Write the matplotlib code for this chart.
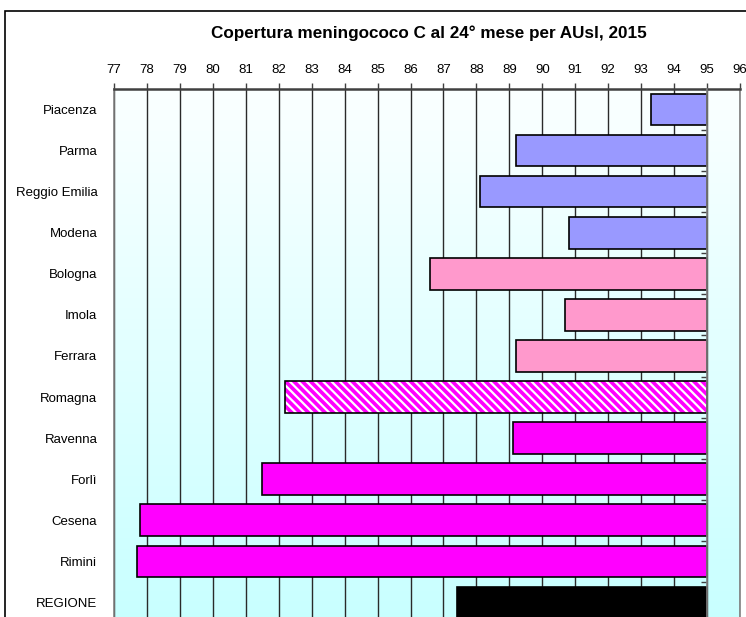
import matplotlib
matplotlib.use('Agg')

import numpy as np
import matplotlib.pyplot as plt
from matplotlib.patches import Rectangle

plt.rcParams['font.family'] = ['Liberation Sans', 'DejaVu Sans']
plt.rcParams['hatch.linewidth'] = 1.6

# Dati: copertura (%) per AUsl, barre disegnate dal valore fino a 95
aree = ['Piacenza', 'Parma', 'Reggio Emilia', 'Modena', 'Bologna', 'Imola',
        'Ferrara', 'Romagna', 'Ravenna', 'Forlì', 'Cesena', 'Rimini', 'REGIONE']
copertura = [93.3, 89.2, 88.1, 90.8, 86.6, 90.7, 89.2, 82.2, 89.1, 81.5, 77.8, 77.7, 87.4]
colori = ['#9999ff', '#9999ff', '#9999ff', '#9999ff', '#ff99cc', '#ff99cc',
          '#ff99cc', '#ff00ff', '#ff00ff', '#ff00ff', '#ff00ff', '#ff00ff', '#000000']
tratteggio = [None] * 7 + ['\\\\\\\\'] + [None] * 5
riferimento = 95
x_ticks = list(range(77, 97))

fig = plt.figure(figsize=(7.46, 6.17), dpi=100)
fig.patch.set_facecolor('white')

# cornice esterna del grafico
fig.patches.append(Rectangle((5 / 746, -0.1), 1.0, 1.1 - 11 / 617, transform=fig.transFigure,
                             fill=False, edgecolor='black', linewidth=1.2, zorder=0))

ax = fig.add_axes([114 / 746, -0.0097, 626 / 746, 0.8655])

# sfondo sfumato bianco -> azzurro
grad = np.linspace(0, 1, 256).reshape(-1, 1)
cmap = matplotlib.colors.LinearSegmentedColormap.from_list('sf', ['#fbffff', '#c8ffff'])
ax.imshow(grad, extent=[77, 96, 12.5, -0.5], aspect='auto', cmap=cmap, zorder=0)

# griglia verticale
for t in x_ticks:
    ax.axvline(t, color='#2a2a2a', linewidth=1.0, zorder=1)

y = np.arange(len(aree))
larghezze = [riferimento - v for v in copertura]
for i in range(len(aree)):
    if tratteggio[i]:
        ax.barh(y[i], larghezze[i], left=copertura[i], height=0.77, color=colori[i],
                edgecolor='white', hatch=tratteggio[i], linewidth=0, zorder=2)
        ax.barh(y[i], larghezze[i], left=copertura[i], height=0.77, fill=False,
                edgecolor='black', linewidth=1.2, zorder=3)
    else:
        ax.barh(y[i], larghezze[i], left=copertura[i], height=0.77, color=colori[i],
                edgecolor='black', linewidth=1.2, zorder=2)

ax.set_xlim(77, 96)
ax.set_ylim(12.5, -0.5)

ax.xaxis.tick_top()
ax.set_xticks(x_ticks)
ax.tick_params(axis='x', direction='out', length=4, width=1, color='#404040',
               labelsize=9.5, pad=5)
ax.set_yticks(y)
ax.set_yticklabels(aree)
ax.tick_params(axis='y', length=0, labelsize=9.5, pad=12)

for s in ['left', 'right']:
    ax.spines[s].set_color('#808080')
    ax.spines[s].set_linewidth(1.2)
ax.spines['top'].set_color('#404040')
ax.spines['top'].set_linewidth(1.8)
ax.spines['bottom'].set_visible(False)

# asse delle categorie posizionato a 95
ax2 = ax.twinx()
ax2.set_ylim(12.5, -0.5)
for s in ['left', 'top', 'bottom']:
    ax2.spines[s].set_visible(False)
ax2.spines['right'].set_position(('data', riferimento))
ax2.spines['right'].set_color('#808080')
ax2.spines['right'].set_linewidth(1.2)
ax2.set_yticks(np.arange(-0.5, 12.5, 1.0))
ax2.set_yticklabels([])
ax2.tick_params(axis='y', direction='in', length=4, width=1, color='#404040')

fig.text(429 / 746, 1 - 33 / 617, 'Copertura meningococo C al 24° mese per AUsl, 2015',
         ha='center', va='center', fontsize=12.3, fontweight='bold')

plt.savefig('out.png', dpi=100, facecolor=fig.get_facecolor())
plt.close(fig)
